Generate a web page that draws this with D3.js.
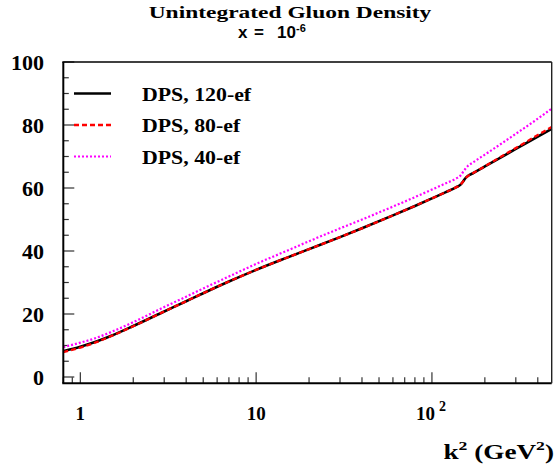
<!DOCTYPE html>
<html>
<head>
<meta charset="utf-8">
<script src="https://cdn.jsdelivr.net/npm/d3@7"></script>
<style>
  html, body { margin: 0; padding: 0; background: #fff; }
  svg { display: block; }
  .serif { font-family: "Liberation Serif", "Times New Roman", serif; font-weight: bold; }
  .sans { font-family: "Liberation Sans", Arial, sans-serif; }
</style>
</head>
<body>
<svg id="chart" width="555" height="466"></svg>
<script>
// k^2 grid (GeV^2) and the unintegrated gluon density for three DPS fits
const kSq   = [0.8, 1, 1.2, 1.5, 2, 3, 4, 5, 7, 10, 15, 20, 30, 40, 60, 80, 100, 120, 137, 145, 150, 155, 160, 170, 200, 250, 300, 400, 480];
const ef120 = [8.2, 9.6, 11.0, 13.1, 16.2, 20.8, 24.05, 26.6, 30.3, 34.0, 37.9, 40.6, 44.4, 47.2, 51.3, 54.3, 56.7, 58.7, 60.2, 61.0, 62.0, 63.1, 63.8, 64.6, 66.85, 69.9, 72.4, 76.3, 78.8];
const ef80  = [7.9, 9.35, 10.8, 13.0, 16.1, 20.8, 24.05, 26.6, 30.3, 34.0, 37.9, 40.6, 44.4, 47.2, 51.3, 54.3, 56.7, 58.7, 60.2, 61.0, 62.0, 63.1, 63.8, 64.6, 66.9, 70.1, 72.7, 76.8, 79.4];
const ef40  = [9.5, 10.9, 12.2, 14.3, 17.4, 22.2, 25.5, 28.1, 31.9, 35.9, 40.1, 43.1, 47.2, 50.0, 54.1, 57.1, 59.5, 61.5, 63.0, 63.9, 65.0, 66.1, 67.0, 68.0, 70.6, 74.2, 77.2, 82.0, 85.2];

const seriesNames = ["DPS, 120-ef", "DPS, 80-ef", "DPS, 40-ef"];
const legendY     = [90, 80, 70];          // legend rows sit on these y values
const yTickLabels = [0, 20, 40, 60, 80, 100];
const xTickLabels = [{v: 1, base: "1", sup: ""}, {v: 10, base: "10", sup: ""}, {v: 100, base: "10", sup: "2"}];

const svg = d3.select("#chart");
const plotLeft = 63.3, plotRight = 551.7, plotTop = 62, plotBottom = 383.3;

const x = d3.scaleLog().domain([0.8, 480]).range([plotLeft, plotRight]);
const y = d3.scaleLinear().domain([-2, 100]).range([plotBottom, plotTop]);

// series styles
const styles = [
  {data: ef120, color: "#000000", width: 2.6, dash: null},
  {data: ef80,  color: "#ff0000", width: 2.3, dash: "5,3"},
  {data: ef40,  color: "#ff00ff", width: 2.2, dash: "2,2"}
];

// y ticks: every 5, longer every 20
const yTicks = d3.range(0, 101, 5);
svg.append("g").selectAll("line").data(yTicks).join("line")
  .attr("x1", plotLeft).attr("x2", d => plotLeft + (d % 20 === 0 ? 11 : 5.5))
  .attr("y1", d => y(d)).attr("y2", d => y(d))
  .attr("stroke", "#333").attr("stroke-width", 1.2);

// x ticks: decades long, sub-decades short
const xTicks = x.ticks().filter(d => d >= 0.8 && d <= 480);
const isDecade = d => Math.abs(Math.log10(d) - Math.round(Math.log10(d))) < 1e-9;
svg.append("g").selectAll("line").data(xTicks).join("line")
  .attr("x1", d => x(d)).attr("x2", d => x(d))
  .attr("y1", plotBottom).attr("y2", d => plotBottom - (isDecade(d) ? 11 : 6))
  .attr("stroke", "#333").attr("stroke-width", 1.2);

// curves (magenta underneath, red dashes on top of black)
const line = d3.line().curve(d3.curveMonotoneX);
[2, 0, 1].forEach(i => {
  const s = styles[i];
  svg.append("path")
    .attr("d", line(kSq.map((k, j) => [x(k), y(s.data[j])])))
    .attr("fill", "none")
    .attr("stroke", s.color)
    .attr("stroke-width", s.width)
    .attr("stroke-dasharray", s.dash);
});

// frame
svg.append("line").attr("x1", plotLeft).attr("x2", plotLeft).attr("y1", plotTop).attr("y2", plotBottom)
  .attr("stroke", "#000").attr("stroke-width", 2);
svg.append("line").attr("x1", plotLeft - 1).attr("x2", plotRight).attr("y1", plotBottom).attr("y2", plotBottom)
  .attr("stroke", "#000").attr("stroke-width", 2);
svg.append("line").attr("x1", plotLeft - 1).attr("x2", plotRight).attr("y1", plotTop).attr("y2", plotTop)
  .attr("stroke", "#000").attr("stroke-width", 1.6);
svg.append("line").attr("x1", plotRight).attr("x2", plotRight).attr("y1", plotTop).attr("y2", plotBottom)
  .attr("stroke", "#222").attr("stroke-width", 1.4);

// y tick labels
svg.append("g").selectAll("text").data(yTickLabels).join("text")
  .attr("class", "serif")
  .attr("x", 44).attr("y", d => y(d) + 8)
  .attr("text-anchor", "end")
  .attr("font-size", 22)
  .text(d => d);

// x tick labels
const xl = svg.append("g").selectAll("text").data(xTickLabels).join("text")
  .attr("class", "serif")
  .attr("font-size", 19)
  .attr("x", d => x(d.v) - (d.sup ? 1 : 0))
  .attr("y", 420)
  .attr("text-anchor", "middle");
xl.append("tspan").text(d => d.base);
xl.filter(d => d.sup).append("tspan")
  .attr("dx", 4).attr("dy", -9).attr("font-size", 14).text(d => d.sup);

// axis title (wide bold face, stretched horizontally about its right end)
const xt = svg.append("text").attr("class", "serif")
  .attr("transform", "translate(554,459) scale(1.36,1)")
  .attr("text-anchor", "end").attr("font-size", 20);
xt.append("tspan").text("k");
xt.append("tspan").attr("dy", -9).attr("font-size", 13).text("2");
xt.append("tspan").attr("dy", 9).text(" (GeV");
xt.append("tspan").attr("dy", -9).attr("font-size", 13).text("2");
xt.append("tspan").attr("dy", 9).text(")");

// title
svg.append("text").attr("class", "serif")
  .attr("transform", "translate(290,17.5) scale(1.34,1)")
  .attr("text-anchor", "middle")
  .attr("font-size", 17.5)
  .text("Unintegrated Gluon Density");

// subtitle x = 10^-6, pieces spaced out
const sub = svg.append("text").attr("class", "sans")
  .attr("y", 38).attr("font-size", 17).attr("font-weight", "bold");
sub.append("tspan").attr("x", 238).text("x");
sub.append("tspan").attr("x", 254).text("=");
sub.append("tspan").attr("x", 277).text("10");
sub.append("tspan").attr("x", 296).attr("dy", -6).attr("font-size", 11).text("-6");

// legend
const lg = svg.append("g").selectAll("g").data(seriesNames).join("g")
  .attr("transform", (d, i) => `translate(0,${y(legendY[i])})`);
lg.append("line").attr("x1", 74).attr("x2", 111).attr("y1", 0).attr("y2", 0)
  .attr("stroke", (d, i) => styles[i].color)
  .attr("stroke-width", (d, i) => styles[i].width)
  .attr("stroke-dasharray", (d, i) => styles[i].dash);
lg.append("text").attr("class", "serif")
  .attr("transform", "translate(142,7) scale(1.12,1)")
  .attr("font-size", 19.5)
  .text(d => d);
</script>
</body>
</html>
